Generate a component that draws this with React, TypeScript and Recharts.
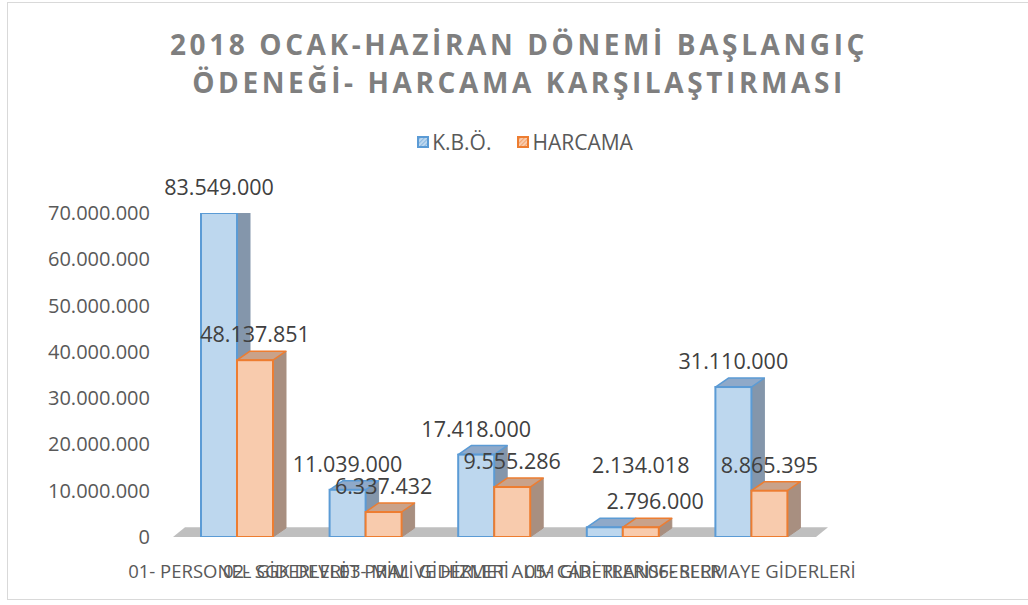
import React from "react";
import { BarChart, Bar, XAxis, YAxis, LabelList, ReferenceArea } from "recharts";

// ---- data ----
const categories = [
  "01- PERSONEL GİDERLERİ",
  "02- SGK DEVLET PRİMİ GİDERLERİ",
  "03- MAL VE HİZMET ALIM GİDERLERİ",
  "05- CARİ TRANSFERLER",
  "06- SERMAYE GİDERLERİ",
];
// bar heights as drawn in the picture
const kboValues = [70000000, 10200000, 17800000, 2100000, 32400000];
const harcamaValues = [38200000, 5400000, 10800000, 2100000, 10000000];
// data label texts as printed in the picture
const kboLabels = ["83.549.000", "11.039.000", "17.418.000", "2.796.000", "31.110.000"];
const harcamaLabels = ["48.137.851", "6.337.432", "9.555.286", "2.134.018", "8.865.395"];
const yTicks = [0, 10000000, 20000000, 30000000, 40000000, 50000000, 60000000, 70000000];
const seriesNames = ["K.B.Ö.", "HARCAMA"];
const titleLines = ["2018 OCAK-HAZİRAN DÖNEMİ BAŞLANGIÇ", "ÖDENEĞİ- HARCAMA KARŞILAŞTIRMASI"];

const data = categories.map((c, i) => ({
  name: c,
  kbo: kboValues[i],
  harcama: harcamaValues[i],
  kboLabel: kboLabels[i],
  harcamaLabel: harcamaLabels[i],
}));

const FONT = "'Open Sans', 'Liberation Sans', sans-serif";
const BLUE = { front: "#bdd7ee", stroke: "#5b9bd5", side: "#8496ab", top: "#8fa9c9" };
const ORANGE = { front: "#f8cbad", stroke: "#ed7d31", side: "#a88f80", top: "#c9a28a" };

const fmt = (v: number) => String(Math.round(v)).replace(/\B(?=(\d{3})+(?!\d))/g, ".");

const make3D = (c: typeof BLUE) => (props: any) => {
  const { x, y, width, height } = props;
  if (x == null || y == null || !width || height == null) return null;
  const dx = 13;
  const dy = 9;
  const r = x + width;
  const b = y + height;
  return (
    <g>
      <polygon
        points={`${r},${y} ${r + dx},${y - dy} ${r + dx},${b - dy} ${r},${b}`}
        fill={c.side}
        stroke={c.side}
        strokeWidth={1}
      />
      <polygon
        points={`${x},${y} ${x + dx},${y - dy} ${r + dx},${y - dy} ${r},${y}`}
        fill={c.top}
        stroke={c.stroke}
        strokeWidth={1.5}
        strokeLinejoin="round"
      />
      <rect x={x} y={y} width={width} height={height} fill={c.front} stroke={c.stroke} strokeWidth={2} />
    </g>
  );
};

const floorShape = (props: any) => {
  const { x, y, width, height } = props;
  if (x == null) return null;
  const s = 12;
  return (
    <polygon
      points={`${x},${y + height} ${x + width},${y + height} ${x + width + s},${y} ${x + s},${y}`}
      fill="#bfbfbf"
    />
  );
};

// labels sit above their bar; when the two bars of a category are nearly equal,
// the second series' label is lifted one line so the two do not overlap
const makeLabel = (series: "kbo" | "harcama") => (props: any) => {
  const { x, y, width, value, index } = props;
  if (x == null) return null;
  const close = Math.abs(kboValues[index] - harcamaValues[index]) < 3000000;
  let dx = 0;
  let dy = -18;
  if (close) {
    if (series === "harcama") dy = -54;
    else dx = width * 1.4;
  }
  return (
    <text
      x={x + width / 2 + dx}
      y={y + dy}
      textAnchor="middle"
      fontFamily={FONT}
      fontSize={21.5}
      fill="#404040"
    >
      {value}
    </text>
  );
};

const YTick = (props: any) => {
  const { x, y, payload } = props;
  return (
    <text x={x} y={y} dy={7} textAnchor="end" fontFamily={FONT} fontSize={20} fill="#595959">
      {fmt(payload.value)}
    </text>
  );
};

const XTick = (props: any) => {
  const { x, y, payload } = props;
  return (
    <text x={x} y={y} dy={13} textAnchor="middle" fontFamily={FONT} fontSize={18.5} fill="#595959">
      {payload.value}
    </text>
  );
};

const LegendIcon = ({ c }: { c: typeof BLUE }) => (
  <svg width={12} height={12} style={{ marginRight: 3 }}>
    <defs>
      <pattern id={`hatch-${c.stroke}`} width="3" height="3" patternUnits="userSpaceOnUse" patternTransform="rotate(45)">
        <rect width="3" height="3" fill={c.front} />
        <line x1="0" y1="0" x2="0" y2="3" stroke={c.stroke} strokeWidth="1" />
      </pattern>
    </defs>
    <rect x={1} y={1} width={10} height={10} fill={`url(#hatch-${c.stroke})`} stroke={c.stroke} strokeWidth={2} />
  </svg>
);

export default function App() {
  return (
    <div style={{ position: "absolute", left: 0, top: 0, width: 1028, height: 605, background: "#ffffff", overflow: "hidden" }}>
      <div
        style={{
          position: "absolute",
          left: 7,
          top: 2,
          width: 1030,
          height: 598,
          border: "1px solid #d9d9d9",
          boxSizing: "border-box",
        }}
      />
      <div
        style={{
          position: "absolute",
          left: 0,
          top: 25,
          width: 1038,
          textAlign: "center",
          fontFamily: FONT,
          fontWeight: 700,
          fontSize: 28,
          letterSpacing: 3.6,
          lineHeight: "38px",
          color: "#7f7f7f",
        }}
      >
        <div>{titleLines[0]}</div>
        <div>{titleLines[1]}</div>
      </div>
      <div
        style={{
          position: "absolute",
          left: 0,
          top: 128,
          width: 1028,
          display: "flex",
          justifyContent: "center",
          alignItems: "center",
          fontFamily: FONT,
          fontSize: 21,
          color: "#595959",
          paddingLeft: 22,
          boxSizing: "border-box",
        }}
      >
        <span style={{ display: "flex", alignItems: "center", marginRight: 26 }}>
          <LegendIcon c={BLUE} />
          {seriesNames[0]}
        </span>
        <span style={{ display: "flex", alignItems: "center" }}>
          <LegendIcon c={ORANGE} />
          {seriesNames[1]}
        </span>
      </div>
      <div style={{ position: "absolute", left: 0, top: 0 }}>
        <BarChart
          width={1028}
          height={605}
          data={data}
          margin={{ top: 213, right: 88, bottom: 28, left: 8 }}
          barGap={0}
          barSize={36}
        >
          <XAxis
            dataKey="name"
            interval={0}
            axisLine={false}
            tickLine={false}
            tickSize={0}
            tickMargin={28}
            height={40}
            padding={{ left: 0, right: 124 }}
            tick={<XTick />}
          />
          <YAxis
            domain={[0, 70000000]}
            ticks={yTicks}
            allowDataOverflow
            axisLine={false}
            tickLine={false}
            tickSize={0}
            tickMargin={23}
            width={165}
            tick={<YTick />}
          />
          <ReferenceArea y1={0} y2={2100000} shape={floorShape} ifOverflow="visible" />
          <Bar dataKey="kbo" name={seriesNames[0]} shape={make3D(BLUE)} isAnimationActive={false}>
            <LabelList dataKey="kboLabel" content={makeLabel("kbo")} />
          </Bar>
          <Bar dataKey="harcama" name={seriesNames[1]} shape={make3D(ORANGE)} isAnimationActive={false}>
            <LabelList dataKey="harcamaLabel" content={makeLabel("harcama")} />
          </Bar>
        </BarChart>
      </div>
    </div>
  );
}
